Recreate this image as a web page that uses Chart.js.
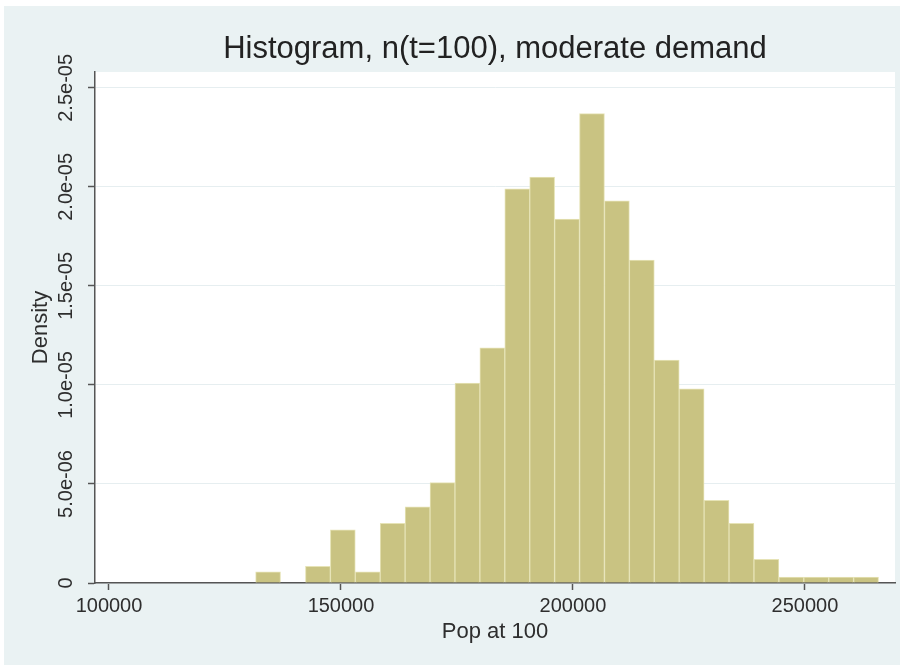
<!DOCTYPE html>
<html>
<head>
<meta charset="utf-8">
<script src="https://cdn.jsdelivr.net/npm/chart.js@4.4.0/dist/chart.umd.min.js"></script>
<style>
html,body{margin:0;padding:0;background:#fff;}
canvas{display:block;}
</style>
</head>
<body>
<canvas id="c" width="904" height="669"></canvas>
<script>
// ---- data ----
const binStart = 131600;      // lower edge of the first bin
const binWidth = 5370;        // bin width
const densityE6 = [0.56, 0, 0.84, 2.69, 0.56, 3.01, 3.85, 5.07, 10.1, 11.87,
                   19.9, 20.5, 18.37, 23.7, 19.3, 16.3, 11.26, 9.8, 4.17, 3.01,
                   1.2, 0.3, 0.3, 0.3, 0.3];   // density in units of 1e-6
const xTicks = [100000, 150000, 200000, 250000];
const yTicks = [0, 5e-6, 1e-5, 1.5e-5, 2e-5, 2.5e-5];
const yTickLabels = ['0', '5.0e-06', '1.0e-05', '1.5e-05', '2.0e-05', '2.5e-05'];
const titleText = 'Histogram, n(t=100), moderate demand';
const xTitle = 'Pop at 100';
const yTitle = 'Density';

const FONT = '"Liberation Sans", Arial, Helvetica, sans-serif';
const binCenters = densityE6.map((_, i) => binStart + binWidth * (i + 0.5));
const points = densityE6.map((d, i) => ({x: binCenters[i], y: d * 1e-6}));

const bgPlugin = {
  id: 'bg',
  beforeDraw(chart) {
    const {ctx, chartArea: a} = chart;
    ctx.save();
    ctx.fillStyle = '#ffffff';
    ctx.fillRect(0, 0, chart.width, chart.height);
    ctx.fillStyle = '#eaf2f3';
    ctx.fillRect(4, 6, 896, 659);
    ctx.fillStyle = '#ffffff';
    ctx.fillRect(a.left, a.top, a.right - a.left, a.bottom - a.top);
    ctx.restore();
  }
};

const yLabelPlugin = {
  id: 'yLabels',
  afterDraw(chart) {
    const s = chart.scales.y;
    const ctx = chart.ctx;
    ctx.save();
    ctx.font = '20px ' + FONT;
    ctx.fillStyle = '#2e2e2e';
    ctx.textAlign = 'center';
    ctx.textBaseline = 'middle';
    s.ticks.forEach(t => {
      const idx = yTicks.indexOf(t.value);
      if (idx < 0) return;
      const y = s.getPixelForValue(t.value);
      ctx.save();
      ctx.translate(66, y);
      ctx.rotate(-Math.PI / 2);
      ctx.fillText(yTickLabels[idx], 0, 0);
      ctx.restore();
    });
    ctx.restore();
  }
};

new Chart(document.getElementById('c'), {
  type: 'bar',
  data: {
    datasets: [{
      data: points,
      backgroundColor: '#c9c382',
      borderColor: '#e6e3b6',
      borderWidth: 1,
      barPercentage: 1,
      categoryPercentage: 1,
      grouped: false
    }]
  },
  options: {
    responsive: false,
    animation: false,
    devicePixelRatio: 1,
    layout: {padding: {left: 0, right: 9, top: 0, bottom: 0}},
    plugins: {
      legend: {display: false},
      tooltip: {enabled: false},
      title: {
        display: true,
        text: titleText,
        fullSize: false,
        color: '#222222',
        font: {family: FONT, size: 31, weight: 'normal', lineHeight: 1.2},
        padding: {top: 30.4, bottom: 4.4}
      }
    },
    scales: {
      x: {
        type: 'linear',
        min: 96983,
        max: 269400,
        offset: false,
        afterBuildTicks: s => { s.ticks = xTicks.map(v => ({value: v})); },
        afterFit: s => { s.height = 86; },
        ticks: {
          callback: v => String(v),
          color: '#2e2e2e',
          font: {family: FONT, size: 20},
          padding: 4,
          maxRotation: 0,
          autoSkip: false
        },
        grid: {
          offset: false,
          drawOnChartArea: false,
          drawTicks: true,
          tickLength: 7,
          tickColor: '#555555',
          tickWidth: 1.5
        },
        border: {display: true, color: '#555555', width: 1.5},
        title: {
          display: true,
          text: xTitle,
          color: '#2e2e2e',
          font: {family: FONT, size: 22, lineHeight: 1.2},
          padding: {top: 0, bottom: 23.8}
        }
      },
      y: {
        type: 'linear',
        min: 0,
        max: 2.58e-5,
        afterBuildTicks: s => { s.ticks = yTicks.map(v => ({value: v})); },
        afterFit: s => { s.width = 95; },
        ticks: {display: false},
        grid: {
          color: '#e6eef0',
          lineWidth: 1,
          drawTicks: true,
          tickLength: 7,
          tickColor: '#555555',
          tickWidth: 1.5
        },
        border: {display: true, color: '#555555', width: 1.5},
        title: {
          display: true,
          text: yTitle,
          color: '#2e2e2e',
          font: {family: FONT, size: 22, lineHeight: 1.2},
          padding: {top: 28, bottom: 0}
        }
      }
    }
  },
  plugins: [bgPlugin, yLabelPlugin]
});
</script>
</body>
</html>
